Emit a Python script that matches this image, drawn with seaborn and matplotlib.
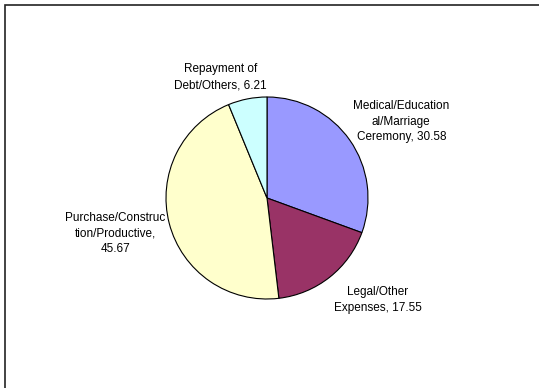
import matplotlib
matplotlib.use("Agg")
import matplotlib.pyplot as plt
from matplotlib.patches import Rectangle
import numpy as np
import seaborn as sns

# Share of loan use, by purpose (percent)
categories = [
    "Medical/Education\nal/Marriage\nCeremony",
    "Legal/Other\nExpenses",
    "Purchase/Construc\ntion/Productive,\n",
    "Repayment of\nDebt/Others",
]
values = [30.58, 17.55, 45.67, 6.21]
colors = ["#9999FF", "#993366", "#FFFFCC", "#CCFFFF"]

sns.set_style("white")
plt.rcParams["font.family"] = ["Liberation Sans", "DejaVu Sans"]

W, H, DPI = 539, 388, 100
fig = plt.figure(figsize=(W / DPI, H / DPI), dpi=DPI)
ax = fig.add_axes([0, 0, 1, 1])

palette = sns.color_palette(colors)
wedges, _ = ax.pie(
    values, colors=palette, startangle=90, counterclock=False,
    wedgeprops=dict(edgecolor="black", linewidth=0.8),
    radius=1.0, center=(0, 0),
)

# pie centre and radius in pixels
cx, cy, r = 267, 198, 101
ax.set_xlim(-cx / r, (W - cx) / r)
ax.set_ylim(-(H - cy) / r, cy / r)
ax.set_aspect("equal")
ax.axis("off")

# label placement: (angle offset in deg, radial distance)
label_layout = [(-5.3, 1.53), (9.1, 1.49), (-1.5, 1.54), (9.8, 1.28)]
for w, cat, val, (dang, dist) in zip(wedges, categories, values, label_layout):
    mid = np.deg2rad((w.theta1 + w.theta2) / 2 + dang)
    sep = "" if cat.endswith("\n") else ", "
    ax.text(dist * np.cos(mid), dist * np.sin(mid), f"{cat}{sep}{val:.2f}",
            ha="center", va="center", fontsize=8.5, color="black",
            linespacing=1.4, multialignment="center")

# chart-area border (open at right and bottom)
fig.add_artist(Rectangle((5 / W, -0.1), 1.2, (H - 5) / H + 0.1,
                         transform=fig.transFigure, fill=False,
                         edgecolor="#222222", linewidth=1.2))

fig.savefig("out.png", dpi=DPI)
